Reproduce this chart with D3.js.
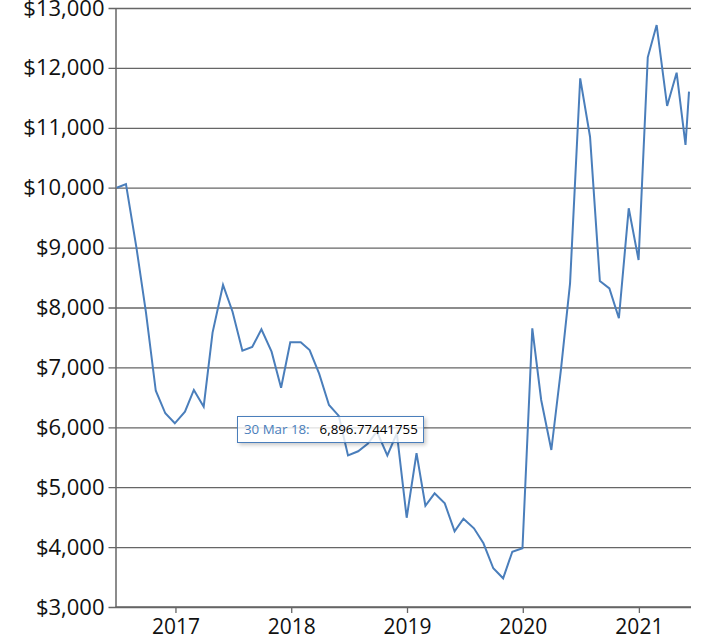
<!DOCTYPE html>
<html>
<head>
<meta charset="utf-8">
<script src="https://cdn.jsdelivr.net/npm/d3@7"></script>
<style>
  html, body { margin: 0; padding: 0; background: #fff; }
  #wrap { position: relative; width: 721px; height: 637px; overflow: hidden; }
  svg { position: absolute; left: 0; top: 0; }
  .tip {
    position: absolute; background: rgba(255,255,255,0.8); border: 1px solid #4a7ebb;
    box-shadow: 2px 2px 4px rgba(0,0,0,0.22);
    font-family: "Open Sans", sans-serif; font-size: 13.3px; line-height: 25px;
    padding: 0 5px 0 6px; white-space: nowrap;
  }
  .tip .d { color: #4a7ebb; margin-right: 10px; }
  .tip .v { color: #000; }
</style>
</head>
<body>
<div id="wrap"></div>
<script>
// ---- data ----
const dates = [
  "2016-06-30","2016-07-29","2016-08-31","2016-09-30","2016-10-31","2016-11-30","2016-12-30",
  "2017-01-31","2017-02-28","2017-03-31","2017-04-28","2017-05-31","2017-06-30",
  "2017-07-31","2017-08-31","2017-09-29","2017-10-31","2017-11-30","2017-12-29",
  "2018-01-31","2018-02-28","2018-03-30","2018-04-30","2018-05-31","2018-06-29",
  "2018-07-31","2018-08-31","2018-09-28","2018-10-31","2018-11-30","2018-12-31",
  "2019-01-31","2019-02-28","2019-03-29","2019-04-30","2019-05-31","2019-06-28",
  "2019-07-31","2019-08-30","2019-09-30","2019-10-31","2019-11-29","2019-12-31",
  "2020-01-31","2020-02-28","2020-03-31","2020-04-30","2020-05-29","2020-06-30",
  "2020-07-31","2020-08-31","2020-09-30","2020-10-30","2020-11-30","2020-12-31",
  "2021-01-29","2021-02-26","2021-03-31","2021-04-30","2021-05-28","2021-06-08"
];
const values = [
  10000, 10060, 9000, 7920, 6610, 6234, 6067,
  6261, 6623, 6344, 7580, 8376, 7930,
  7279, 7340, 7636, 7262, 6660, 7419,
  7420, 7290, 6896.77441755, 6372, 6190, 5530,
  5600, 5727, 5930, 5530, 5900, 4490,
  5570, 4690, 4898, 4731, 4262, 4475,
  4314, 4063, 3646, 3479, 3923, 3980,
  7653, 6456, 5621, 6950, 8404, 11826,
  10851, 8442, 8320, 7820, 9656, 8793,
  12177, 12716, 11364, 11920, 10713, 11603
];
const yTicks = [3000, 4000, 5000, 6000, 7000, 8000, 9000, 10000, 11000, 12000, 13000];
const xTickYears = [2017, 2018, 2019, 2020, 2021];
const tooltipDate = "30 Mar 18:";
const tooltipValue = "6,896.77441755";

// ---- layout ----
const W = 721, H = 637;
const mLeft = 115.5, mRight = 689, gridRight = 691, mTop = 8, mBottom = 607;
const parse = d3.timeParse("%Y-%m-%d");
const data = dates.map((d, i) => ({ date: parse(d), value: values[i] }));

const xStart = d3.timeDay.offset(data[0].date, -4);
const x = d3.scaleTime().domain([xStart, data[data.length - 1].date]).range([mLeft, mRight]);
const y = d3.scaleLinear().domain([3000, 13000]).range([mBottom, mTop]);

const wrap = d3.select("#wrap");
const svg = wrap.append("svg").attr("width", W).attr("height", H);

const font = '"Open Sans", sans-serif';
const gridColor = "#666";

// y axis + gridlines
const yAxis = d3.axisLeft(y)
  .tickValues(yTicks)
  .tickSizeInner(-(gridRight - mLeft))
  .tickSizeOuter(0)
  .tickPadding(11)
  .tickFormat(d => "$" + d3.format(",")(d));
const gy = svg.append("g").attr("transform", `translate(${mLeft},0)`).call(yAxis);
gy.select(".domain").attr("stroke", gridColor).attr("stroke-width", 1.5);
gy.selectAll(".tick line").attr("x1", -7).attr("stroke", gridColor).attr("stroke-width", 1.3);
gy.selectAll(".tick text")
  .attr("font-family", font).attr("font-size", 22).attr("fill", "#111");

// x axis
const xAxis = d3.axisBottom(x)
  .tickValues(xTickYears.map(yr => new Date(yr, 0, 1)))
  .tickFormat(d3.timeFormat("%Y"))
  .tickSizeInner(6)
  .tickSizeOuter(0)
  .tickPadding(6);
const gx = svg.append("g").attr("transform", `translate(0,${mBottom})`).call(xAxis);
gx.select(".domain").attr("d", `M${mLeft},0H${gridRight}`)
  .attr("stroke", gridColor).attr("stroke-width", 1.5);
gx.selectAll(".tick line").attr("stroke", gridColor).attr("stroke-width", 1.3);
gx.selectAll(".tick text")
  .attr("font-family", font).attr("font-size", 21).attr("fill", "#111");

// line
const line = d3.line().x(d => x(d.date)).y(d => y(d.value));
svg.append("path")
  .datum(data)
  .attr("fill", "none")
  .attr("stroke", "#4a7ebb")
  .attr("stroke-width", 2)
  .attr("stroke-linejoin", "miter")
  .attr("d", line);

// tooltip (static, as in the reference)
const tip = wrap.append("div").attr("class", "tip")
  .style("left", "237px").style("top", "416px");
tip.append("span").attr("class", "d").text(tooltipDate);
tip.append("span").attr("class", "v").text(tooltipValue);
</script>
</body>
</html>
